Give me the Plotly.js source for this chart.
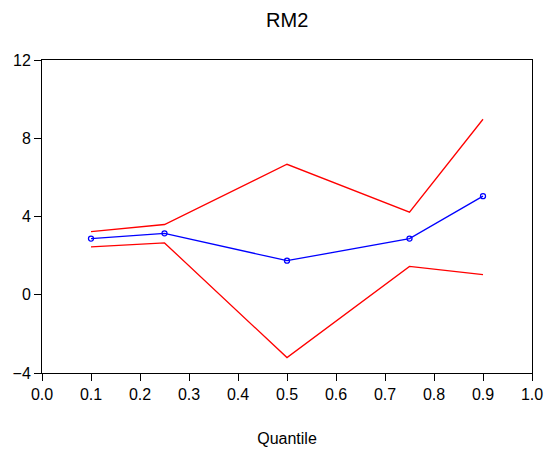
<!DOCTYPE html>
<html><head><meta charset="utf-8">
<script src="https://cdn.plot.ly/plotly-3.0.1.min.js"></script>
<style>html,body{margin:0;padding:0;background:#fff;}#chart{width:547px;height:453px;}</style>
</head><body><div id="chart"></div>
<script>
const quantiles = [0.1, 0.25, 0.5, 0.75, 0.9];
const estimate = [2.87, 3.14, 1.74, 2.87, 5.04];
const upperBand = [3.23, 3.59, 6.67, 4.22, 8.97];
const lowerBand = [2.45, 2.65, -3.21, 1.45, 1.03];
const xTicks = [0, 0.1, 0.2, 0.3, 0.4, 0.5, 0.6, 0.7, 0.8, 0.9, 1.0];
const xTickLabels = ['0.0','0.1','0.2','0.3','0.4','0.5','0.6','0.7','0.8','0.9','1.0'];
const yTicks = [-4, 0, 4, 8, 12];

const traces = [
  {x: quantiles, y: upperBand, mode: 'lines', line: {color: '#ff0000', width: 1.3}, hoverinfo: 'skip'},
  {x: quantiles, y: lowerBand, mode: 'lines', line: {color: '#ff0000', width: 1.3}, hoverinfo: 'skip'},
  {x: quantiles, y: estimate, mode: 'lines+markers', line: {color: '#0000ff', width: 1.3},
   marker: {symbol: 'circle-open', size: 5, color: '#0000ff', line: {width: 1.3}}}
];

const layout = {
  width: 547, height: 453,
  margin: {l: 42, r: 15, t: 60, b: 80},
  paper_bgcolor: '#fff', plot_bgcolor: '#fff',
  showlegend: false,
  font: {family: 'Liberation Sans, Arial, sans-serif', size: 16, color: '#000'},
  title: {text: 'RM2', x: 0.525, xanchor: 'center', y: 0.955, yanchor: 'middle', font: {size: 20}},
  xaxis: {
    range: [0, 1], tickvals: xTicks, ticktext: xTickLabels,
    ticks: 'outside', ticklen: 7, tickcolor: '#000', tickwidth: 1,
    showline: true, linecolor: '#000', linewidth: 1, mirror: true,
    showgrid: false, zeroline: false, tickfont: {size: 16},
    title: {text: 'Quantile', font: {size: 16}, standoff: 30}
  },
  yaxis: {
    range: [-4, 12], tickvals: yTicks,
    ticks: 'outside', ticklen: 7, tickcolor: '#000', tickwidth: 1,
    showline: true, linecolor: '#000', linewidth: 1, mirror: true,
    showgrid: false, zeroline: false, tickfont: {size: 16}
  }
};
Plotly.newPlot('chart', traces, layout, {displayModeBar: false, staticPlot: true});
</script></body></html>
